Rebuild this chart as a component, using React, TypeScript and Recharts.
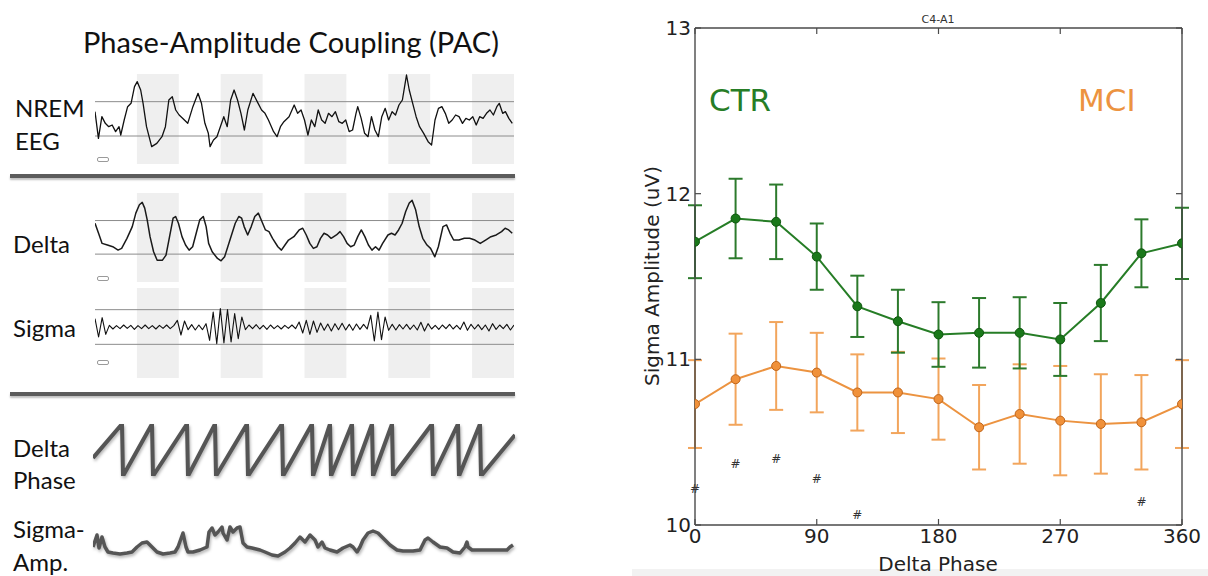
import React from "react";
import {
  ComposedChart,
  LineChart,
  Line,
  Scatter,
  ErrorBar,
  XAxis,
  YAxis,
  ReferenceArea,
  ReferenceLine,
} from "recharts";

// ---------- right panel: sigma amplitude by delta phase (C4-A1) ----------
const PHASES = [0, 30, 60, 90, 120, 150, 180, 210, 240, 270, 300, 330, 360];
const CTR = [11.71, 11.85, 11.83, 11.62, 11.32, 11.23, 11.15, 11.16, 11.16, 11.12, 11.34, 11.64, 11.7];
const CTR_SEM = [0.22, 0.24, 0.225, 0.2, 0.185, 0.19, 0.195, 0.21, 0.215, 0.22, 0.23, 0.205, 0.215];
const MCI = [10.73, 10.88, 10.96, 10.92, 10.8, 10.8, 10.76, 10.59, 10.67, 10.63, 10.61, 10.62, 10.73];
const MCI_SEM = [0.265, 0.275, 0.265, 0.24, 0.23, 0.245, 0.245, 0.255, 0.3, 0.33, 0.3, 0.285, 0.265];
const HASH_PHASE = [0, 30, 60, 90, 120, 330];
const HASH_Y = [10.22, 10.37, 10.4, 10.28, 10.06, 10.14];
const X_TICKS = [0, 90, 180, 270, 360];
const Y_TICKS = [10, 11, 12, 13];

// ---------- left panel: example traces (sample index, amplitude) ----------
const EEG: [number, number][] = [
  [0, 21], [10, -59], [20, 6], [30, -14], [40, -24], [50, -19], [60, -39], [70, -24], [75, -49],
  [85, -4], [95, 36], [105, 46], [115, 96], [123, 111], [133, 86], [140, 46], [150, -24], [165, -84],
  [180, -74], [195, -54], [205, -24], [215, 56], [225, 66], [235, 26], [245, 11], [255, 1], [270, -14],
  [285, 36], [300, 76], [310, 46], [320, -14], [330, -44], [335, -84], [345, -64], [355, -54],
  [365, -24], [375, 6], [385, -24], [395, 56], [405, 86], [415, 56], [425, 16], [435, -34], [445, 26],
  [460, 76], [475, 46], [485, 26], [495, 16], [505, -4], [520, -39], [530, -54], [540, -24], [550, -9],
  [565, 6], [580, 41], [590, 16], [600, 26], [610, -4], [620, -49], [630, -4], [640, -24], [650, 26],
  [660, -4], [670, -14], [680, 16], [690, 6], [700, 21], [710, -9], [720, -14], [730, -4], [740, -39],
  [750, -34], [760, 16], [765, 36], [775, 1], [785, -44], [795, -54], [805, 6], [815, -34], [825, -54],
  [835, 6], [845, 31], [855, -4], [865, 21], [875, 11], [885, 41], [895, 56], [903, 106], [907, 131],
  [915, 86], [925, 46], [935, 6], [945, -24], [957, -44], [970, -69], [980, -79], [990, -4], [1000, 31],
  [1010, 36], [1020, 16], [1030, -14], [1040, -4], [1050, 11], [1060, 6], [1070, -14], [1080, 1],
  [1090, -4], [1100, 6], [1110, -19], [1120, 6], [1130, 1], [1140, 16], [1150, 26], [1160, 11],
  [1170, 36], [1177, 46], [1187, 16], [1195, 21], [1205, 1], [1215, -14],
];

const DELTA: [number, number][] = [
  [0, 42], [10, 12], [20, -18], [35, -23], [50, -28], [65, -38], [75, -33], [90, -3], [105, 32],
  [115, 72], [125, 97], [133, 104], [140, 87], [147, 52], [155, 2], [165, -43], [175, -68], [190, -68],
  [200, -53], [210, 2], [220, 57], [227, 62], [235, 42], [245, 2], [255, -23], [265, -38], [275, -28],
  [285, 12], [295, 52], [305, 62], [313, 32], [320, -18], [330, -43], [345, -63], [355, -70],
  [365, -58], [380, -8], [395, 42], [405, 62], [413, 57], [420, 32], [430, 7], [440, 32], [450, 62],
  [460, 72], [470, 47], [480, 22], [490, 17], [500, -3], [515, -28], [525, -38], [535, -23], [545, -8],
  [560, 2], [575, 22], [585, 27], [595, 7], [605, -18], [615, -33], [625, -28], [635, -3], [645, 12],
  [655, 7], [665, -3], [680, 7], [690, 17], [700, 2], [710, -18], [720, -28], [730, -23], [740, 2],
  [750, 22], [760, 2], [770, -23], [780, -38], [790, -28], [800, -38], [810, -18], [825, 7], [835, 12],
  [845, 7], [855, 22], [865, 42], [875, 77], [885, 102], [893, 110], [903, 82], [913, 32], [923, -3],
  [935, -23], [945, -33], [957, -58], [967, -28], [980, 32], [990, 37], [1000, 12], [1010, -8],
  [1025, -8], [1040, -3], [1055, -3], [1070, -8], [1085, -18], [1100, -8], [1115, 2], [1130, 7],
  [1145, 17], [1155, 27], [1165, 22], [1175, 12],
];

const SIGMA = [
  25, -30, 28, -22,
  5, -6, 4, -5, 6, -4, 5, -7, 4, -5, 6, -5, 4, -6, 5, -4, 6, -5, 4,
  20, -24, 18,
  -8, 7, -9, 6, -8, 10,
  -40, 45, -50, 55, -48, 52, -45, 40, -35, 30,
  -8, 6, -5, 7, -6, 5, -7, 6, -5, 4, -6, 5, -4, 6, -5,
  15, -18, 20, -22, 18, -16, 12,
  -10, 9, -12, 10, -8, 11, -9, 8, -10, 9, -7, 8, -6,
  35, -42, 45, -38, 30,
  -10, 8, -9, 7, -6, 8, -7, 6, -9, 14, -12, 10, -6, 5, -7, 6, -5, 8, -6, 5, -7, 15, -10, 8,
  -6, 7, -8, 6, -12, 10, -7, 6, -5, 8, -9, 6,
];

// delta phase wraps (+180 -> -180) at these samples
const PHASE_START = -55;
const PHASE_WRAPS = [29, 59, 94, 122, 154, 189, 219, 237, 259, 279, 299, 339, 365, 387];
const PHASE_END_SAMPLE = 422;
const PHASE_END = 104;

const SIGMA_AMP: [number, number][] = [
  [0, 13], [4, 25], [6, 12], [9, 23], [12, 13], [15, 8], [20, 7], [27, 6], [34, 7], [39, 8], [44, 13],
  [49, 17], [54, 18], [59, 13], [64, 8], [70, 6], [77, 7], [82, 8], [85, 13], [90, 27], [93, 13],
  [95, 8], [100, 8], [107, 10], [114, 13], [116, 28], [119, 32], [122, 25], [125, 28], [129, 33],
  [130, 27], [134, 20], [137, 33], [140, 28], [144, 32], [147, 33], [150, 17], [154, 13], [159, 12],
  [167, 10], [172, 8], [179, 5], [185, 4], [192, 8], [197, 12], [202, 17], [207, 23], [212, 18],
  [217, 25], [222, 20], [225, 13], [229, 18], [232, 12], [237, 10], [244, 8], [250, 12], [257, 15],
  [260, 13], [264, 8], [267, 13], [270, 20], [275, 27], [280, 29], [285, 27], [290, 22], [297, 15],
  [304, 10], [310, 9], [320, 9], [327, 10], [332, 20], [335, 22], [340, 18], [347, 13], [354, 12],
  [360, 8], [367, 7], [372, 13], [374, 18], [375, 13], [379, 10], [387, 10], [400, 10], [414, 10],
  [417, 13], [420, 15],
];

const GRAY_COLS = [1, 3, 5, 7, 9];

const FRAME = "#4a4a4a";
const GREEN = "#267d26";
const ORANGE = "#ec9340";
const DJ = "DejaVu Sans";
const LATO = "Lato, 'Open Sans', sans-serif";

// right chart frame, in chart coordinates
const RW = 568;
const RH = 576;
const P_LEFT = 55;
const P_RIGHT = 542;
const P_TOP = 28;
const P_BOTTOM = 525;

type TraceProps = {
  points: [number, number][];
  xMax: number;
  yDomain: [number, number];
  refs?: number[];
  bands?: boolean;
  left: number;
  top: number;
  width: number;
  height: number;
  stroke: string;
  strokeWidth: number;
  shadow?: boolean;
};

function Trace({ points, xMax, yDomain, refs = [], bands, left, top, width, height, stroke, strokeWidth, shadow }: TraceProps) {
  const data = points.map(([x, v]) => ({ x, v }));
  return (
    <div
      style={{
        position: "absolute",
        left,
        top,
        width,
        height,
        filter: shadow ? "drop-shadow(1px 2px 1.5px rgba(0,0,0,0.3))" : undefined,
      }}
    >
      <LineChart width={width} height={height} data={data} margin={{ top: 0, right: 0, bottom: 0, left: 0 }}>
        <XAxis type="number" dataKey="x" domain={[0, xMax]} hide />
        <YAxis type="number" domain={yDomain} hide allowDataOverflow />
        {bands &&
          GRAY_COLS.map((c) => (
            <ReferenceArea
              key={c}
              x1={(c * xMax) / 10}
              x2={((c + 1) * xMax) / 10}
              fill="#efefef"
              fillOpacity={1}
              stroke="none"
            />
          ))}
        {refs.map((r) => (
          <ReferenceLine key={r} y={r} stroke="#8c8c8c" strokeWidth={1} />
        ))}
        <Line
          type="linear"
          dataKey="v"
          stroke={stroke}
          strokeWidth={strokeWidth}
          strokeLinejoin="round"
          dot={false}
          isAnimationActive={false}
        />
      </LineChart>
    </div>
  );
}

const BottomTick = (props: any) => {
  const { x, payload } = props;
  return (
    <g>
      <line x1={x} x2={x} y1={P_BOTTOM} y2={P_BOTTOM - 6} stroke={FRAME} strokeWidth={1.2} />
      <text x={x} y={P_BOTTOM + 18} textAnchor="middle" fontSize={20} fontFamily={DJ} fill="#222">
        {payload.value}
      </text>
    </g>
  );
};

const TopTick = (props: any) => {
  const { x } = props;
  return <line x1={x} x2={x} y1={P_TOP} y2={P_TOP + 6} stroke={FRAME} strokeWidth={1.2} />;
};

const LeftTick = (props: any) => {
  const { y, payload } = props;
  return (
    <g>
      <line x1={P_LEFT} x2={P_LEFT + 6} y1={y} y2={y} stroke={FRAME} strokeWidth={1.2} />
      <text x={P_LEFT - 4} y={y + 7} textAnchor="end" fontSize={20} fontFamily={DJ} fill="#222">
        {payload.value}
      </text>
    </g>
  );
};

const RightTick = (props: any) => {
  const { y } = props;
  return <line x1={P_RIGHT} x2={P_RIGHT - 6} y1={y} y2={y} stroke={FRAME} strokeWidth={1.2} />;
};

const HashMark = (props: any) => (
  <text
    x={props.cx}
    y={props.cy}
    textAnchor="middle"
    dominantBaseline="central"
    fontSize={12}
    fontFamily={DJ}
    fill="#333"
  >
    #
  </text>
);

function PhaseAmpChart() {
  const data = PHASES.map((p, i) => ({
    phase: p,
    ctr: CTR[i],
    ctrErr: CTR_SEM[i],
    mci: MCI[i],
    mciErr: MCI_SEM[i],
  }));
  const hashData = HASH_PHASE.map((p, i) => ({ phase: p, hash: HASH_Y[i] }));
  return (
    <div style={{ position: "absolute", left: 640, top: 0, width: RW, height: RH }}>
      <ComposedChart
        width={RW}
        height={RH}
        data={data}
        margin={{ top: P_TOP - 1, right: RW - P_RIGHT - 1, bottom: RH - P_BOTTOM - 1, left: 0 }}
      >
        <XAxis
          xAxisId="b"
          type="number"
          dataKey="phase"
          domain={[0, 360]}
          ticks={X_TICKS}
          interval={0}
          height={1}
          tickSize={0}
          tickMargin={0}
          allowDataOverflow
          axisLine={{ stroke: FRAME, strokeWidth: 1.4 }}
          tick={<BottomTick />}
        />
        <XAxis
          xAxisId="t"
          orientation="top"
          type="number"
          dataKey="phase"
          domain={[0, 360]}
          ticks={X_TICKS}
          interval={0}
          height={1}
          tickSize={0}
          tickMargin={0}
          axisLine={{ stroke: FRAME, strokeWidth: 1.4 }}
          tick={<TopTick />}
        />
        <YAxis
          yAxisId="l"
          type="number"
          domain={[10, 13]}
          ticks={Y_TICKS}
          interval={0}
          width={P_LEFT}
          tickSize={0}
          tickMargin={0}
          allowDataOverflow
          axisLine={{ stroke: FRAME, strokeWidth: 1.4 }}
          tick={<LeftTick />}
        />
        <YAxis
          yAxisId="r"
          orientation="right"
          type="number"
          domain={[10, 13]}
          ticks={Y_TICKS}
          interval={0}
          width={1}
          tickSize={0}
          tickMargin={0}
          axisLine={{ stroke: FRAME, strokeWidth: 1.4 }}
          tick={<RightTick />}
        />
        <Line
          xAxisId="b"
          yAxisId="l"
          type="linear"
          dataKey="mci"
          stroke={ORANGE}
          strokeWidth={2}
          dot={{ r: 4.5, fill: "#f0913a", stroke: "#c0661c", strokeWidth: 1 }}
          isAnimationActive={false}
        >
          <ErrorBar dataKey="mciErr" direction="y" stroke="#f2a55c" strokeWidth={2} width={7} />
        </Line>
        <Line
          xAxisId="b"
          yAxisId="l"
          type="linear"
          dataKey="ctr"
          stroke={GREEN}
          strokeWidth={2}
          dot={{ r: 4.5, fill: "#1a781a", stroke: "#0f560f", strokeWidth: 1 }}
          isAnimationActive={false}
        >
          <ErrorBar dataKey="ctrErr" direction="y" stroke="#2c7a2c" strokeWidth={2} width={7} />
        </Line>
        <Scatter
          xAxisId="t"
          yAxisId="r"
          data={hashData}
          dataKey="hash"
          shape={HashMark}
          isAnimationActive={false}
        />
      </ComposedChart>
    </div>
  );
}

export default function App() {
  const sigmaPts: [number, number][] = SIGMA.map((v, i) => [i, v]);
  const phasePts: [number, number][] = [[0, PHASE_START]];
  PHASE_WRAPS.forEach((s) => {
    phasePts.push([s, 180]);
    phasePts.push([s + 1, -180]);
  });
  phasePts.push([PHASE_END_SAMPLE, PHASE_END]);

  const sepStyle: React.CSSProperties = {
    position: "absolute",
    left: 10,
    width: 505,
    height: 4,
    background: "#5c5c5c",
    boxShadow: "0 2px 2px rgba(0,0,0,0.25)",
  };
  const scaleBar = (left: number, top: number): React.CSSProperties => ({
    position: "absolute",
    left,
    top,
    width: 10,
    height: 3,
    border: "1px solid #9a9a9a",
    borderRadius: 2,
  });

  return (
    <div
      style={{
        position: "absolute",
        left: 0,
        top: 0,
        width: 1208,
        height: 576,
        background: "#fff",
        overflow: "hidden",
      }}
    >
      <Trace points={EEG} xMax={1220} yDomain={[-136, 134]} refs={[51, -52]} bands left={95} top={74} width={419} height={90} stroke="#111" strokeWidth={1.3} />
      <Trace points={DELTA} xMax={1180} yDomain={[-133, 132]} refs={[50, -50]} bands left={95} top={193} width={419} height={89} stroke="#1a1a1a" strokeWidth={1.5} />
      <Trace points={sigmaPts} xMax={SIGMA.length - 1} yDomain={[-153, 117]} refs={[52, -52]} bands left={95} top={288} width={419} height={90} stroke="#111" strokeWidth={1.1} />
      <Trace points={phasePts} xMax={PHASE_END_SAMPLE} yDomain={[-180, 180]} left={93} top={424} width={422} height={52} stroke="#555" strokeWidth={4} shadow />
      <Trace points={SIGMA_AMP} xMax={422} yDomain={[0, 40]} left={93} top={520} width={422} height={40} stroke="#555" strokeWidth={3.5} shadow />

      <div style={{ ...sepStyle, top: 174 }} />
      <div style={{ ...sepStyle, top: 392 }} />
      <div style={scaleBar(97, 157)} />
      <div style={scaleBar(97, 276)} />
      <div style={scaleBar(97, 360)} />

      <div style={{ position: "absolute", left: 632, top: 569, width: 576, height: 7, background: "#f2f2f2" }} />

      <PhaseAmpChart />

      <svg width={1208} height={576} style={{ position: "absolute", left: 0, top: 0, pointerEvents: "none" }}>
        <g fontFamily={LATO} fill="#111">
          <text x={83} y={53} fontSize={29}>Phase-Amplitude Coupling (PAC)</text>
          <text x={15} y={117} fontSize={24}>NREM</text>
          <text x={15} y={150} fontSize={24}>EEG</text>
          <text x={13} y={253} fontSize={24}>Delta</text>
          <text x={13} y={337} fontSize={24}>Sigma</text>
          <text x={13} y={457} fontSize={24}>Delta</text>
          <text x={13} y={489} fontSize={24}>Phase</text>
          <text x={13} y={538} fontSize={24}>Sigma-</text>
          <text x={13} y={571} fontSize={24}>Amp.</text>
        </g>
        <g fontFamily={DJ}>
          <text x={938} y={23} fontSize={11} textAnchor="middle" fill="#333">C4-A1</text>
          <text x={709} y={111} fontSize={31} fill={GREEN}>CTR</text>
          <text x={1078} y={111} fontSize={31} fill={ORANGE}>MCI</text>
          <text x={938} y={571} fontSize={20} textAnchor="middle" fill="#222">Delta Phase</text>
          <text transform="translate(659,276) rotate(-90)" fontSize={20} textAnchor="middle" fill="#222">
            Sigma Amplitude (uV)
          </text>
        </g>
      </svg>
    </div>
  );
}
